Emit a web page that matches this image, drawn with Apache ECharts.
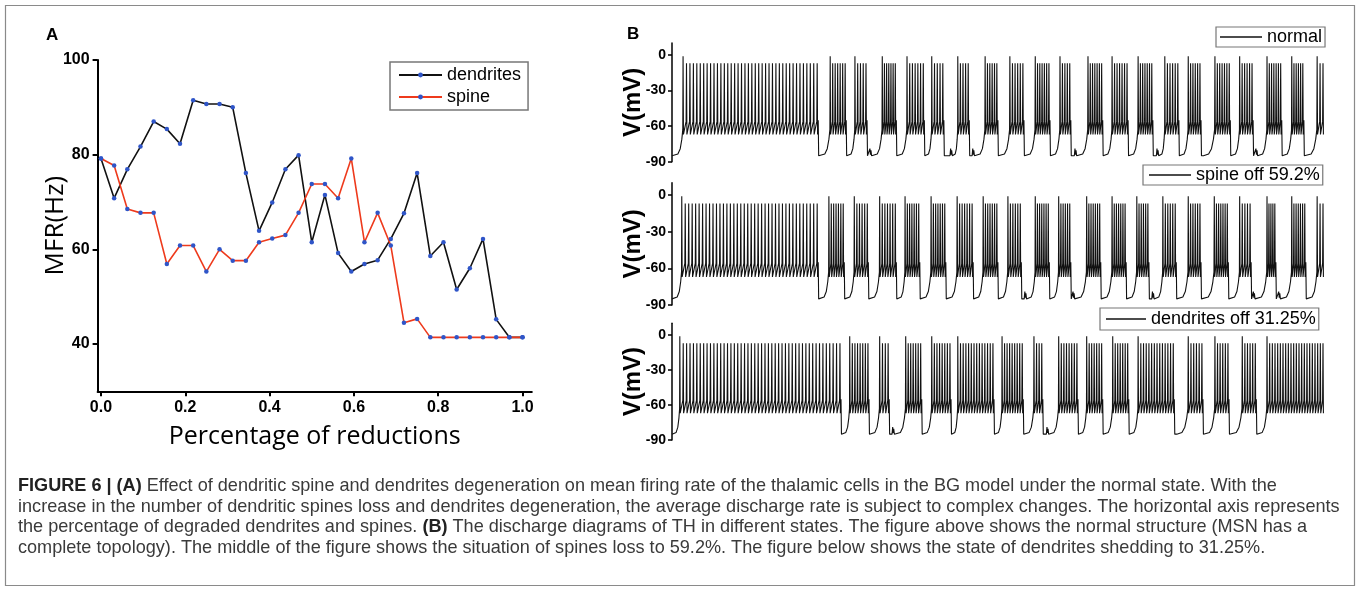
<!DOCTYPE html>
<html>
<head>
<meta charset="utf-8">
<script src="https://cdn.jsdelivr.net/npm/echarts@6/dist/echarts.min.js"></script>
<style>
html,body{margin:0;padding:0;background:#fff;}
#c{width:1360px;height:598px;}
</style>
</head>
<body>
<div id="c"></div>
<script>
// ---------- Panel A data ----------
const reductionX = [0, 0.03125, 0.0625, 0.09375, 0.125, 0.15625, 0.1875, 0.21875, 0.25, 0.28125, 0.3125,
  0.34375, 0.375, 0.40625, 0.4375, 0.46875, 0.5, 0.53125, 0.5625, 0.59375, 0.625, 0.65625, 0.6875,
  0.71875, 0.75, 0.78125, 0.8125, 0.84375, 0.875, 0.90625, 0.9375, 0.96875, 1.0];
const dendritesMFR = [79.2, 70.8, 76.9, 81.7, 87.0, 85.4, 82.3, 91.5, 90.7, 90.7, 90.0,
  76.1, 63.9, 69.9, 76.9, 79.9, 61.5, 71.5, 59.2, 55.3, 56.9, 57.7, 62.2,
  67.6, 76.1, 58.6, 61.5, 51.5, 56.0, 62.2, 45.2, 41.4, 41.4];
const spineMFR = [79.2, 77.7, 68.5, 67.7, 67.7, 56.9, 60.8, 60.8, 55.3, 60.0, 57.6,
  57.6, 61.5, 62.3, 63.0, 67.7, 73.8, 73.8, 70.8, 79.2, 61.5, 67.7, 60.8,
  44.5, 45.3, 41.4, 41.4, 41.4, 41.4, 41.4, 41.4, 41.4, 41.4];
const xTickLabels = [0, 0.2, 0.4, 0.6, 0.8, 1.0];
const yTickLabelsA = [40, 60, 80, 100];
const vTickLabels = [-90, -60, -30, 0];

// ---------- Panel B data (times in ms, 0..1000) ----------
// tonic phase: [start, end, number of spikes]
const normalTonic = [17, 223, 40];
const normalBurstStart = [243, 281, 323, 361, 399, 439, 481, 519, 558, 596, 639, 676, 716, 757, 793, 834, 872, 914, 952, 991];
const normalBurstEnd   = [266, 298, 343, 386, 416, 455, 499, 539, 579, 611, 660, 699, 737, 777, 811, 856, 891, 935, 969, 1000];
const normalBurstSpikes= [7, 5, 7, 7, 5, 5, 6, 6, 7, 5, 7, 7, 7, 6, 6, 7, 6, 7, 6, 3];
const normalBumps = [304, 428, 462, 619, 745, 897];

const spineTonic = [15, 223, 40];
const spineBurstStart = [241, 280, 319, 358, 398, 438, 478, 516, 558, 594, 637, 676, 714, 754, 793, 833, 872, 914, 952, 991];
const spineBurstEnd   = [263, 300, 343, 379, 419, 461, 499, 535, 578, 611, 657, 696, 731, 773, 811, 853, 888, 926, 972, 1000];
const spineBurstSpikes= [7, 6, 7, 7, 7, 7, 7, 6, 7, 6, 7, 7, 6, 6, 6, 7, 5, 5, 7, 3];
const spineBumps = [542, 616, 738, 893, 932];

const dendTonic = [12, 258, 48];
const dendBurstStart = [273, 319, 359, 399, 439, 507, 556, 594, 637, 677, 716, 793, 834, 876, 914];
const dendBurstEnd   = [301, 332, 382, 427, 493, 538, 568, 622, 660, 700, 770, 814, 854, 896, 1000];
const dendBurstSpikes= [8, 4, 7, 8, 14, 9, 4, 8, 7, 7, 14, 6, 6, 6, 22];
const dendBumps = [339, 576];

// ---------- build voltage traces from spike timing ----------
function rise(pts, from, to) {
  const gap = to - from;
  const r = Math.min(gap * 0.85, 20);
  pts.push([to - r, -85], [to - 0.55 * r, -83.5], [to - 0.3 * r, -79], [to - 0.13 * r, -71], [to - 0.03 * r, -63]);
}
function spikes(pts, s, e, n) {
  const step = n > 1 ? (e - s) / (n - 1) : 0;
  for (let k = 0; k < n; k++) {
    const t = s + k * step;
    if (k > 0) pts.push([t - 0.6, -56]);
    pts.push([t, k === 0 ? -1 : -7]);
    pts.push([t + 0.6, -67]);
  }
}
function buildTrace(tonic, starts, ends, counts, bumps) {
  const pts = [[0, -85]];
  rise(pts, 0, tonic[0]);
  spikes(pts, tonic[0], tonic[1], tonic[2]);
  let prevEnd = tonic[1];
  for (let i = 0; i < starts.length; i++) {
    const s = starts[i];
    pts.push([prevEnd + 1.6, -55], [prevEnd + 2.3, -85]);
    let cursor = prevEnd + 2.3;
    bumps.filter(b => b > prevEnd && b < s).forEach(b => {
      pts.push([b - 1, -85], [b, -79], [b + 0.8, -84], [b + 1.6, -80.5], [b + 2.6, -85]);
      cursor = b + 2.6;
    });
    rise(pts, cursor, s);
    spikes(pts, s, ends[i], counts[i]);
    prevEnd = ends[i];
  }
  return pts;
}

const normalTrace = buildTrace(normalTonic, normalBurstStart, normalBurstEnd, normalBurstSpikes, normalBumps);
const spineTrace = buildTrace(spineTonic, spineBurstStart, spineBurstEnd, spineBurstSpikes, spineBumps);
const dendTrace = buildTrace(dendTonic, dendBurstStart, dendBurstEnd, dendBurstSpikes, dendBumps);

// ---------- chart ----------
const chart = echarts.init(document.getElementById('c'), null, {renderer: 'canvas'});

const bGrids = [
  {left: 672, width: 651, top: 43.1, height: 118.6},
  {left: 672, width: 651, top: 182.8, height: 122.2},
  {left: 672, width: 651, top: 323.3, height: 116.7}
];

function vAxis(gi) {
  return {
    gridIndex: gi, type: 'value', min: -90, max: 10, interval: 30,
    axisLine: {show: true, lineStyle: {color: '#000', width: 1.5}},
    axisTick: {show: true, inside: false, length: 4, lineStyle: {color: '#000', width: 1.5}, customValues: vTickLabels},
    axisLabel: {color: '#000', fontFamily: 'Liberation Sans, Arial', fontWeight: 'bold', fontSize: 14, margin: 6, customValues: vTickLabels},
    splitLine: {show: false},
    name: 'V(mV)', nameLocation: 'middle', nameGap: 27, nameMoveOverlap: false,
    nameTextStyle: {color: '#000', fontFamily: 'Liberation Sans, Arial', fontWeight: 'bold', fontSize: 24}
  };
}
function tAxis(gi) {
  return {gridIndex: gi, type: 'value', min: 0, max: 1000, show: false};
}
const traceLine = {color: '#111', width: 1.1};

const captionLines = [
  '{b|FIGURE 6 | (A)} Effect of dendritic spine and dendrites degeneration on mean firing rate of the thalamic cells in the BG model under the normal state. With the',
  'increase in the number of dendritic spines loss and dendrites degeneration, the average discharge rate is subject to complex changes. The horizontal axis represents',
  'the percentage of degraded dendrites and spines. {b|(B)} The discharge diagrams of TH in different states. The figure above shows the normal structure (MSN has a',
  'complete topology). The middle of the figure shows the situation of spines loss to 59.2%. The figure below shows the state of dendrites shedding to 31.25%.'
];
const captionTops = [487, 508, 528, 549];
const capFont = 18.1;

const bLegendBase = {
  itemWidth: 42, itemHeight: 1.4, icon: 'rect',
  borderColor: '#777', borderWidth: 1.2,
  textStyle: {color: '#000', fontFamily: 'Liberation Sans, Arial', fontSize: 18}
};

const option = {
  animation: false,
  backgroundColor: '#fff',
  grid: [
    {left: 97.6, width: 434.2, top: 60, height: 331.3},
    bGrids[0], bGrids[1], bGrids[2]
  ],
  xAxis: [
    {
      gridIndex: 0, type: 'value', min: -0.008, max: 1.022,
      axisLine: {show: true, onZero: false, lineStyle: {color: '#000', width: 2}},
      axisTick: {show: true, length: 5, lineStyle: {color: '#000', width: 2}, customValues: xTickLabels},
      axisLabel: {color: '#000', fontFamily: 'Liberation Sans, Arial', fontWeight: 'bold', fontSize: 16, margin: 8,
        customValues: xTickLabels, formatter: v => v.toFixed(1)},
      splitLine: {show: false},
      name: 'Percentage of reductions', nameLocation: 'middle', nameGap: 33, nameMoveOverlap: false,
      nameTextStyle: {color: '#000', fontFamily: 'Open Sans', fontSize: 25, fontWeight: 500}
    },
    tAxis(1), tAxis(2), tAxis(3)
  ],
  yAxis: [
    {
      gridIndex: 0, type: 'value', min: 30, max: 100,
      axisLine: {show: true, onZero: false, lineStyle: {color: '#000', width: 2}},
      axisTick: {show: true, length: 5, lineStyle: {color: '#000', width: 2}, customValues: yTickLabelsA},
      axisLabel: {color: '#000', fontFamily: 'Liberation Sans, Arial', fontWeight: 'bold', fontSize: 16, margin: 8,
        customValues: yTickLabelsA},
      splitLine: {show: false},
      name: 'MFR(Hz)', nameLocation: 'middle', nameGap: 29, nameMoveOverlap: false,
      nameTextStyle: {color: '#000', fontFamily: 'Open Sans', fontSize: 26, fontWeight: 500}
    },
    vAxis(1), vAxis(2), vAxis(3)
  ],
  legend: [
    {
      data: ['dendrites', 'spine'], orient: 'vertical', left: 390, top: 62,
      itemWidth: 43, itemHeight: 6, itemGap: 4,
      padding: [4, 7, 4, 8], borderColor: '#777', borderWidth: 1.5,
      textStyle: {color: '#000', fontFamily: 'Liberation Sans, Arial', fontSize: 18}
    },
    Object.assign({}, bLegendBase, {data: ['normal'], left: 1216, top: 27, padding: [1, 3, 1, 4]}),
    Object.assign({}, bLegendBase, {data: ['spine off 59.2%'], left: 1143, top: 165, padding: [1, 3, 1, 6]}),
    Object.assign({}, bLegendBase, {data: ['dendrites off 31.25%'], left: 1100, top: 308, itemWidth: 40, padding: [2, 3, 2, 6]})
  ],
  series: [
    {
      name: 'dendrites', type: 'line', xAxisIndex: 0, yAxisIndex: 0,
      data: reductionX.map((x, i) => [x, dendritesMFR[i]]),
      symbol: 'circle', symbolSize: 4.5, showSymbol: true,
      lineStyle: {color: '#111', width: 1.6}, itemStyle: {color: '#2f55c8'}
    },
    {
      name: 'spine', type: 'line', xAxisIndex: 0, yAxisIndex: 0,
      data: reductionX.map((x, i) => [x, spineMFR[i]]),
      symbol: 'circle', symbolSize: 4.5, showSymbol: true,
      lineStyle: {color: '#ee3a1c', width: 1.6}, itemStyle: {color: '#2f55c8'}
    },
    {name: 'normal', type: 'line', xAxisIndex: 1, yAxisIndex: 1, data: normalTrace, symbol: 'none',
      lineStyle: traceLine, itemStyle: {color: '#111'}, silent: true},
    {name: 'spine off 59.2%', type: 'line', xAxisIndex: 2, yAxisIndex: 2, data: spineTrace, symbol: 'none',
      lineStyle: traceLine, itemStyle: {color: '#111'}, silent: true},
    {name: 'dendrites off 31.25%', type: 'line', xAxisIndex: 3, yAxisIndex: 3, data: dendTrace, symbol: 'none',
      lineStyle: traceLine, itemStyle: {color: '#111'}, silent: true}
  ],
  graphic: [
    {type: 'rect', shape: {x: 5.5, y: 5.5, width: 1349, height: 580}, style: {fill: null, stroke: '#8a8a8a', lineWidth: 1.2}, silent: true},
    {type: 'text', left: 46, top: 27, style: {text: 'A', fontFamily: 'Liberation Sans, Arial', fontWeight: 'bold', fontSize: 17, fill: '#000'}},
    {type: 'text', left: 627, top: 26, style: {text: 'B', fontFamily: 'Liberation Sans, Arial', fontWeight: 'bold', fontSize: 17, fill: '#000'}}
  ].concat(captionLines.map((t, i) => ({
    type: 'text', left: 18, top: captionTops[i] - 10,
    style: {
      text: t, fontFamily: 'Liberation Sans, Arial', fontSize: capFont, fill: '#3a3a3a',
      rich: {b: {fontFamily: 'Liberation Sans, Arial', fontSize: capFont, fontWeight: 'bold', fill: '#222'}}
    }
  })))
};
chart.setOption(option);
</script>
</body>
</html>
